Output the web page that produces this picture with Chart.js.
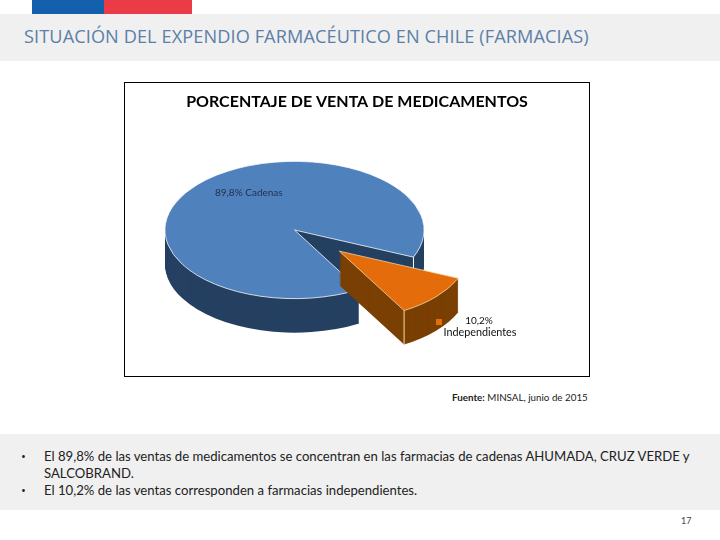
<!DOCTYPE html>
<html lang="es">
<head>
<meta charset="utf-8">
<title>Expendio farmacéutico</title>
<script src="https://cdn.jsdelivr.net/npm/chart.js@4"></script>
<style>
    html, body { margin: 0; padding: 0; background: #fff; }
    body { position: relative; width: 720px; height: 540px; overflow: hidden; font-family: "Open Sans", sans-serif; }
    .abs { position: absolute; white-space: nowrap; }
    .band { position: absolute; left: 0; width: 720px; background: #f0f0f0; }
    #box { position: absolute; left: 124px; top: 82px; width: 464px; height: 293px; border: 1px solid #000; }
    #box canvas { display: block; }
    .bullet { position: absolute; left: 44px; font-size: 13.15px; line-height: 17px; color: #222; white-space: nowrap; font-family: "Lato", sans-serif; }
</style>
</head>
<body>
<div class="abs" style="left:32px;top:0;width:72px;height:14px;background:#1361ad"></div>
<div class="abs" style="left:104px;top:0;width:88px;height:14px;background:#ea3b47"></div>
<div class="band" style="top:14px;height:47px"></div>
<div class="abs" id="heading" style="left:24px;top:24px;font-size:18.15px;font-weight:500;letter-spacing:0.1px;line-height:24px;color:#5b80a8">SITUACIÓN DEL EXPENDIO FARMACÉUTICO EN CHILE (FARMACIAS)</div>

<div id="box"><canvas id="pie" width="464" height="293"></canvas></div>

<div class="abs" style="left:452px;top:390px;font-size:9.8px;line-height:14px;color:#222;font-family:Lato,sans-serif"><b>Fuente:</b> MINSAL, junio de 2015</div>

<div class="band" style="top:434px;height:76px"></div>
<div class="abs" style="left:21px;top:448px;font-size:13px;line-height:17px;color:#222">•</div>
<div class="abs" style="left:21px;top:482px;font-size:13px;line-height:17px;color:#222">•</div>
<div class="bullet" style="top:448px">El 89,8% de las ventas de medicamentos se concentran en las farmacias de cadenas AHUMADA, CRUZ VERDE y</div>
<div class="bullet" style="top:465px">SALCOBRAND.</div>
<div class="bullet" style="top:482px">El 10,2% de las ventas corresponden a farmacias independientes.</div>
<div class="abs" style="left:681px;top:515px;font-size:9px;line-height:12px;color:#444;font-family:Lato,sans-serif">17</div>

<script>
    const categories = ["Cadenas", "Independientes"];
    const shares = [89.8, 10.2];
    const explode = [0, 60];

    const topColors = ["#4f81bd", "#e46c0a"];
    const sideColors = ["#254061", "#7a3f03"];
    const edgeColors = ["#ffffff", "#f8dca8"];

    // pie look: flattened circle with an extruded side
    const tilt = 0.53;
    const depth = 34;
    const pieX = 169.5;
    const pieY = 147;

    const shareText = (i) => shares[i].toFixed(1).replace(".", ",") + "%";

    const pie3d = {
        id: "pie3d",
        beforeDatasetsDraw(chart) {
            const ctx = chart.ctx;
            const arcs = chart.getDatasetMeta(0).data;

            arcs.forEach((arc, i) => {
                const mid = (arc.startAngle + arc.endAngle) / 2;
                const place = (d) => {
                    ctx.translate(pieX, pieY + d);
                    ctx.scale(1, tilt);
                    ctx.translate(Math.cos(mid) * explode[i], Math.sin(mid) * explode[i]);
                    ctx.translate(-arc.x, -arc.y);
                };

                // side wall, stacked from the bottom up
                const topOptions = arc.options;
                arc.options = {
                    backgroundColor: sideColors[i], borderColor: sideColors[i], borderWidth: 0,
                    borderRadius: 0, spacing: 0, offset: 0, circular: true, borderAlign: "center",
                };
                for (let d = depth; d > 0; d--) {
                    ctx.save();
                    place(d);
                    arc.draw(ctx);
                    ctx.restore();
                }
                arc.options = topOptions;

                ctx.save();
                place(0);
                arc.draw(ctx);
                ctx.restore();

                // light edge on the front corner of the slice
                const cornerX = pieX + (Math.cos(arc.endAngle) * arc.outerRadius + Math.cos(mid) * explode[i]);
                const cornerY = pieY + (Math.sin(arc.endAngle) * arc.outerRadius + Math.sin(mid) * explode[i]) * tilt;
                ctx.save();
                ctx.strokeStyle = edgeColors[i];
                ctx.lineWidth = 1;
                ctx.beginPath();
                ctx.moveTo(cornerX, cornerY);
                ctx.lineTo(cornerX, cornerY + depth);
                ctx.stroke();
                ctx.restore();
            });

            // data labels
            ctx.save();
            ctx.textBaseline = "middle";
            ctx.font = "10px Lato, sans-serif";
            ctx.fillStyle = "#1f2f4f";
            ctx.textAlign = "left";
            ctx.fillText(shareText(0) + " " + categories[0], 90, 110);
            ctx.fillStyle = "#111";
            ctx.textAlign = "center";
            ctx.fillText(shareText(1), 354, 238);
            ctx.font = "10.8px Lato, sans-serif";
            ctx.fillText(categories[1], 355, 250);
            ctx.fillStyle = topColors[1];
            ctx.fillRect(311, 236, 6, 6);
            ctx.restore();
            return false;
        },
    };

    new Chart(document.getElementById("pie"), {
        type: "pie",
        data: {
            labels: categories,
            datasets: [{
                data: shares,
                backgroundColor: topColors,
                borderColor: edgeColors,
                borderWidth: 1,
            }],
        },
        options: {
            responsive: false,
            animation: false,
            rotation: 150,
            radius: 129.5,
            plugins: {
                legend: { display: false },
                tooltip: { enabled: false },
                title: {
                    display: true,
                    text: "PORCENTAJE DE VENTA DE MEDICAMENTOS",
                    color: "#000",
                    font: { family: "Lato, sans-serif", size: 16, weight: "bold" },
                    padding: { top: 9, bottom: 8 },
                },
            },
        },
        plugins: [pie3d],
    });
</script>
</body>
</html>
